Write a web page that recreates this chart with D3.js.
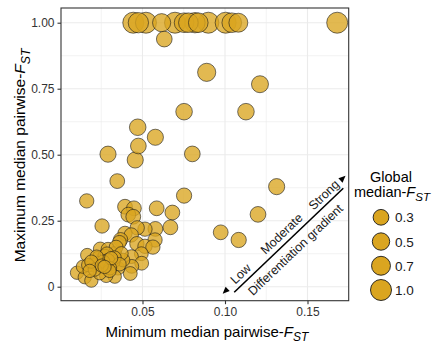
<!DOCTYPE html>
<html>
<head>
<meta charset="utf-8">
<script src="https://cdn.jsdelivr.net/npm/d3@7"></script>
<style>
  html, body { margin: 0; padding: 0; background: #fff; }
  svg { display: block; font-family: "Liberation Sans", Arial, sans-serif; }
</style>
</head>
<body>
<svg id="chart" width="434" height="345"></svg>
<script>
// Minimum median pairwise-FST per group (x)
const minFst = [
  0.0444, 0.0475, 0.0521, 0.0616, 0.0697, 0.0752, 0.0778, 0.0818, 0.0838, 0.0899, 0.1004, 0.1041, 0.1081, 0.1680,
  0.0632, 0.0889, 0.1212, 0.1127, 0.0752, 0.0471, 0.0578, 0.0475, 0.0291, 0.0456, 0.0802, 0.0347, 0.0752, 0.1313,
  0.1200, 0.0974, 0.1083, 0.0162,
  0.0394, 0.0448, 0.0414, 0.0444, 0.0586, 0.0681, 0.0255, 0.0669, 0.0578, 0.0515, 0.0468, 0.0394, 0.0432, 0.0367,
  0.0576, 0.0466, 0.0515, 0.0563, 0.0493, 0.0433, 0.0495, 0.0435, 0.0426,
  0.0103, 0.0150, 0.0190, 0.0139, 0.0165, 0.0244, 0.0291, 0.0332, 0.0200, 0.0230, 0.0271, 0.0311, 0.0351, 0.0332,
  0.0280, 0.0241, 0.0382, 0.0372, 0.0360, 0.0262, 0.0323, 0.0222, 0.0303, 0.0171, 0.0211, 0.0285, 0.0300, 0.0190,
  0.0253, 0.0340, 0.0310,
  0.0220, 0.0270, 0.0330, 0.0180, 0.0290, 0.0360
];
// Maximum median pairwise-FST per group (y)
const maxFst = [
  1.000, 1.000, 1.000, 1.000, 1.000, 1.000, 1.000, 1.000, 1.000, 1.000, 1.000, 1.000, 1.000, 1.000,
  0.938, 0.812, 0.767, 0.663, 0.663, 0.604, 0.566, 0.533, 0.502, 0.480, 0.503, 0.400, 0.345, 0.379,
  0.274, 0.206, 0.177, 0.325,
  0.303, 0.297, 0.273, 0.265, 0.297, 0.281, 0.230, 0.225, 0.219, 0.218, 0.223, 0.202, 0.196, 0.178,
  0.177, 0.163, 0.153, 0.150, 0.125, 0.114, 0.089, 0.077, 0.050,
  0.053, 0.036, 0.023, 0.076, 0.120, 0.143, 0.142, 0.126, 0.082, 0.108, 0.116, 0.089, 0.070, 0.038,
  0.041, 0.051, 0.101, 0.126, 0.168, 0.095, 0.095, 0.114, 0.070, 0.082, 0.065, 0.125, 0.060, 0.095,
  0.080, 0.150, 0.108,
  0.090, 0.075, 0.110, 0.060, 0.100, 0.085
];
// Global median-FST per group (point size)
const globalFst = [
  1.00, 0.90, 1.00, 0.60, 1.00, 0.80, 0.80, 0.90, 0.80, 1.00, 1.00, 0.80, 0.70, 1.00,
  0.30, 0.60, 0.45, 0.40, 0.40, 0.40, 0.35, 0.30, 0.35, 0.35, 0.30, 0.20, 0.25, 0.35,
  0.30, 0.20, 0.25, 0.15,
  0.20, 0.20, 0.20, 0.20, 0.20, 0.20, 0.15, 0.20, 0.20, 0.15, 0.15, 0.15, 0.15, 0.15,
  0.15, 0.15, 0.15, 0.15, 0.10, 0.10, 0.10, 0.10, 0.10,
  0.05, 0.05, 0.05, 0.05, 0.05, 0.10, 0.10, 0.10, 0.05, 0.08, 0.08, 0.08, 0.08, 0.05,
  0.05, 0.05, 0.08, 0.08, 0.10, 0.05, 0.08, 0.05, 0.05, 0.05, 0.05, 0.08, 0.05, 0.05,
  0.05, 0.10, 0.05,
  0.08, 0.05, 0.08, 0.05, 0.08, 0.08
];

const xTicks = [0.05, 0.10, 0.15];
const xTickLabels = ["0.05", "0.10", "0.15"];
const xMinor = [0.025, 0.075, 0.125];
const yTicks = [0, 0.25, 0.5, 0.75, 1.0];
const yTickLabels = ["0", "0.25", "0.50", "0.75", "1.00"];
const yMinor = [0.125, 0.375, 0.625, 0.875];
const legendValues = [0.3, 0.5, 0.7, 1.0];
const legendLabels = ["0.3", "0.5", "0.7", "1.0"];
const gradientLabels = ["Low", "Moderate", "Strong"];

const fill = "#DAA520";
const panel = { left: 61, top: 8, right: 348.7, bottom: 300.7 };

const svg = d3.select("#chart");

const x = d3.scaleLinear().domain([0.00061, 0.17497]).range([panel.left, panel.right]);
const y = d3.scaleLinear().domain([-0.053, 1.0557]).range([panel.bottom, panel.top]);
const r = d3.scaleRadial().domain([0, 1]).range([6.4, 10.5]);

// panel background and grid
svg.append("rect")
  .attr("x", panel.left).attr("y", panel.top)
  .attr("width", panel.right - panel.left).attr("height", panel.bottom - panel.top)
  .attr("fill", "#fff");

const grid = svg.append("g");
grid.selectAll(".xminor").data(xMinor).join("line")
  .attr("x1", d => x(d)).attr("x2", d => x(d))
  .attr("y1", panel.top).attr("y2", panel.bottom)
  .attr("stroke", "#EBEBEB").attr("stroke-width", 0.6);
grid.selectAll(".yminor").data(yMinor).join("line")
  .attr("y1", d => y(d)).attr("y2", d => y(d))
  .attr("x1", panel.left).attr("x2", panel.right)
  .attr("stroke", "#EBEBEB").attr("stroke-width", 0.6);
grid.selectAll(".xmajor").data(xTicks).join("line")
  .attr("x1", d => x(d)).attr("x2", d => x(d))
  .attr("y1", panel.top).attr("y2", panel.bottom)
  .attr("stroke", "#EBEBEB").attr("stroke-width", 1.1);
grid.selectAll(".ymajor").data(yTicks).join("line")
  .attr("y1", d => y(d)).attr("y2", d => y(d))
  .attr("x1", panel.left).attr("x2", panel.right)
  .attr("stroke", "#EBEBEB").attr("stroke-width", 1.1);

// points, largest drawn first
const pts = d3.range(minFst.length).map(i => ({ x: minFst[i], y: maxFst[i], g: globalFst[i] }));
svg.append("g").selectAll("circle")
  .data(pts.slice().sort((a, b) => b.g - a.g))
  .join("circle")
  .attr("cx", d => x(d.x))
  .attr("cy", d => y(d.y))
  .attr("r", d => r(d.g))
  .attr("fill", fill)
  .attr("fill-opacity", 0.78)
  .attr("stroke", "#1a1a1a")
  .attr("stroke-opacity", 0.75)
  .attr("stroke-width", 0.8);

// panel border
svg.append("rect")
  .attr("x", panel.left).attr("y", panel.top)
  .attr("width", panel.right - panel.left).attr("height", panel.bottom - panel.top)
  .attr("fill", "none").attr("stroke", "#333").attr("stroke-width", 1.1);

// axes
const xAxis = d3.axisBottom(x).tickValues(xTicks).tickFormat((d, i) => xTickLabels[i]).tickSize(3.5).tickPadding(3);
const yAxis = d3.axisLeft(y).tickValues(yTicks).tickFormat((d, i) => yTickLabels[i]).tickSize(3.5).tickPadding(3);

const gx = svg.append("g").attr("transform", `translate(0,${panel.bottom})`).call(xAxis);
const gy = svg.append("g").attr("transform", `translate(${panel.left},0)`).call(yAxis);
[gx, gy].forEach(g => {
  g.select(".domain").remove();
  g.selectAll(".tick line").attr("stroke", "#333").attr("stroke-width", 1.1);
  g.selectAll(".tick text").attr("fill", "#333").style("font-size", "12px")
    .style("font-family", "'Liberation Sans', Arial, sans-serif");
});

// titles with an italic, subscripted F_ST
function fstTitle(sel, prefix, size) {
  sel.append("tspan").text(prefix);
  sel.append("tspan").attr("font-style", "italic").text("F");
  sel.append("tspan").attr("font-style", "italic").attr("font-size", size * 0.8).attr("dy", size * 0.3).text("ST");
}
const xTitle = svg.append("text")
  .attr("x", (panel.left + panel.right) / 2 + 2).attr("y", 336.5)
  .attr("text-anchor", "middle").attr("font-size", 15).attr("fill", "#000");
fstTitle(xTitle, "Minimum median pairwise-", 15);

const yTitle = svg.append("text")
  .attr("transform", `translate(25,${(panel.top + panel.bottom) / 2 + 1}) rotate(-90)`)
  .attr("text-anchor", "middle").attr("font-size", 15.5).attr("fill", "#000");
fstTitle(yTitle, "Maximum median pairwise-", 15.5);

// differentiation gradient annotation
const ann = svg.append("g");
const angle = -43.6;
ann.append("line")
  .attr("x1", x(0.1056)).attr("y1", y(-0.021))
  .attr("x2", x(0.1717)).attr("y2", y(0.373))
  .attr("stroke", "#000").attr("stroke-width", 1.6);
function arrowHead(cx, cy, a) {
  ann.append("path")
    .attr("d", "M4,0 L-3,-3 L-3,3 Z")
    .attr("transform", `translate(${cx},${cy}) rotate(${a})`)
    .attr("fill", "#000");
}
arrowHead(x(0.1713), y(0.41), angle);
arrowHead(x(0.1003), y(-0.016), angle + 180);

const gradX = [0.1095, 0.1344, 0.1600];
const gradY = [0.048, 0.1996, 0.347];
gradientLabels.forEach((t, i) => {
  ann.append("text")
    .attr("transform", `translate(${x(gradX[i])},${y(gradY[i])}) rotate(${angle})`)
    .attr("text-anchor", "middle").attr("dominant-baseline", "central")
    .attr("font-size", 12.5).attr("fill", "#1a1a1a").text(t);
});
ann.append("text")
  .attr("transform", `translate(${x(0.1428)},${y(0.139)}) rotate(${angle})`)
  .attr("text-anchor", "middle").attr("dominant-baseline", "central")
  .attr("font-size", 12.5).attr("fill", "#1a1a1a").text("Differentiation gradient");

// size legend
const legend = svg.append("g");
legend.append("text").attr("x", 391).attr("y", 181.7).attr("text-anchor", "middle")
  .attr("font-size", 14.5).attr("fill", "#000").text("Global");
const lt = legend.append("text").attr("x", 392).attr("y", 196.7).attr("text-anchor", "middle")
  .attr("font-size", 14.5).attr("fill", "#000");
fstTitle(lt, "median-", 14.5);

const legendY = d3.scalePoint().domain(legendValues).range([217.3, 290]);
legend.selectAll("circle").data(legendValues).join("circle")
  .attr("cx", 381).attr("cy", d => legendY(d)).attr("r", d => r(d))
  .attr("fill", fill).attr("stroke", "#1a1a1a").attr("stroke-width", 0.9);
legend.selectAll(".lab").data(legendValues).join("text")
  .attr("x", 395).attr("y", d => legendY(d) + 5)
  .attr("font-size", 13.5).attr("fill", "#1a1a1a")
  .text((d, i) => legendLabels[i]);
</script>
</body>
</html>
